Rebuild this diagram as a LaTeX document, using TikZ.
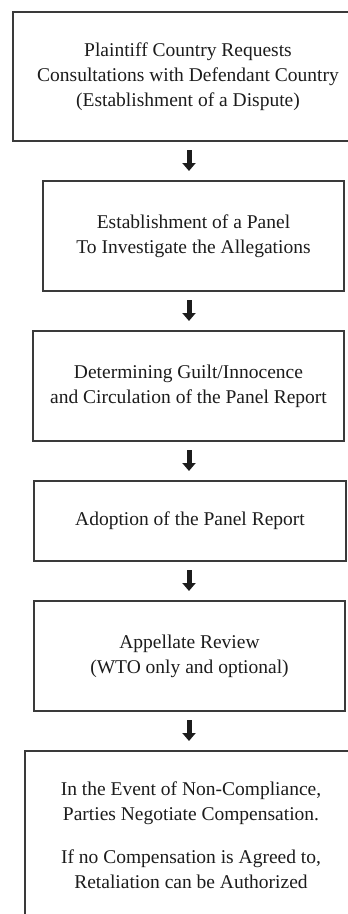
\documentclass[tikz,border=0pt]{standalone}
\usepackage{fontspec}
\setmainfont{Liberation Serif}
\usetikzlibrary{arrows.meta}
\definecolor{ink}{HTML}{1C1C1C}
\definecolor{rule}{HTML}{3A3A3A}
\begin{document}
\begin{tikzpicture}[x=1pt,y=-1pt]
\tikzstyle{stage}=[rectangle,draw=rule,line width=1.3pt,outer sep=0pt,text=ink,align=center,font=\fontsize{19.5}{25}\selectfont];
\tikzstyle{flow}=[draw=ink,line width=5pt,-{Triangle[width=13pt,length=8pt]},shorten <=9pt,shorten >=10pt];
\useasboundingbox (0,0) rectangle (348,914);
\clip (0,0) rectangle (348,914);
\coordinate (ax) at (189,0);

\node [stage,minimum width=350pt,minimum height=129pt] (v1) at (188,76.5) {Plaintiff Country Requests\\Consultations with Defendant Country\\(Establishment of a Dispute)};
\node [stage,minimum width=301pt,minimum height=110pt] (v2) at (193.5,236) {Establishment of a Panel\\To Investigate the Allegations};
\node [stage,minimum width=311pt,minimum height=110pt] (v3) at (188.5,386) {Determining Guilt/Innocence\\and Circulation of the Panel Report};
\node [stage,minimum width=312pt,minimum height=80pt] (v4) at (190,521) {Adoption of the Panel Report};
\node [stage,minimum width=311pt,minimum height=110pt] (v5) at (189.5,656) {Appellate Review\\(WTO only and optional)};
\node [stage,minimum width=332pt,minimum height=168pt] (v6) at (191,835) {In the Event of Non-Compliance,\\Parties Negotiate Compensation.\\[18pt]If no Compensation is Agreed to,\\Retaliation can be Authorized};

\draw [flow] (v1.south -| ax) -- (v2.north -| ax);
\draw [flow] (v2.south -| ax) -- (v3.north -| ax);
\draw [flow] (v3.south -| ax) -- (v4.north -| ax);
\draw [flow] (v4.south -| ax) -- (v5.north -| ax);
\draw [flow] (v5.south -| ax) -- (v6.north -| ax);
\end{tikzpicture}
\end{document}
